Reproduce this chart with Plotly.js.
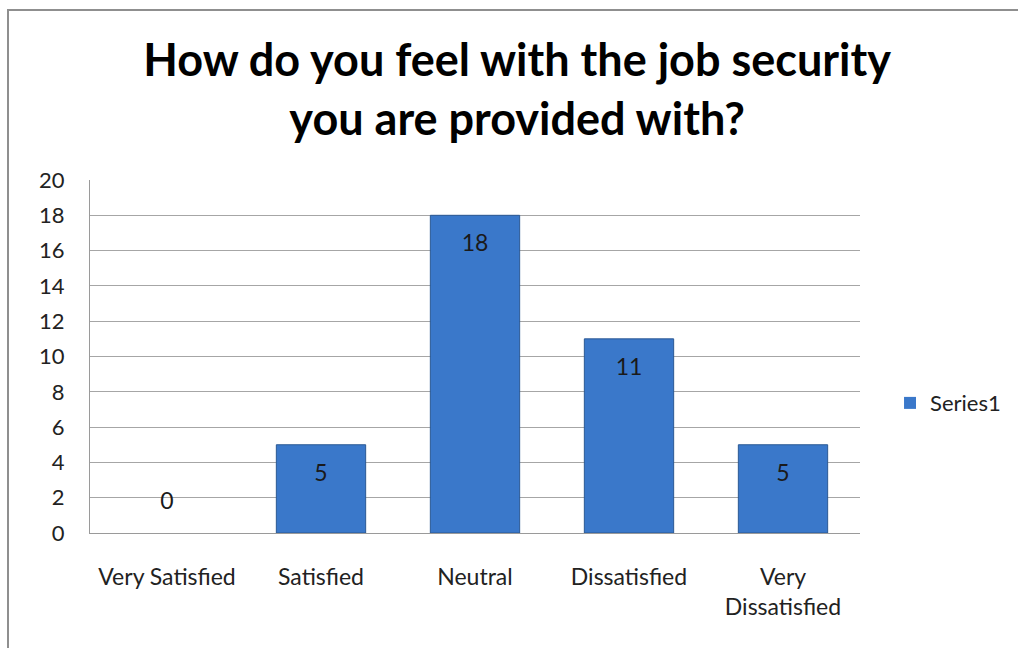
<!DOCTYPE html>
<html>
<head>
<meta charset="utf-8">
<script src="https://cdn.plot.ly/plotly-3.0.1.min.js"></script>
<style>
html,body{margin:0;padding:0;overflow:hidden;background:#fff;}
#chart{position:absolute;left:0;top:0;width:1018px;height:648px;}
#frame{position:absolute;left:7px;top:9px;width:1100px;height:700px;border:2px solid #8f8f8f;pointer-events:none;}
</style>
</head>
<body>
<div id="chart"></div>
<div id="frame"></div>
<script>
const categories = ['Very Satisfied', 'Satisfied', 'Neutral', 'Dissatisfied', 'Very Dissatisfied'];
const tickLabels = ['Very Satisfied', 'Satisfied', 'Neutral', 'Dissatisfied', 'Very<br>Dissatisfied'];
const values = [0, 5, 18, 11, 5];
const seriesName = 'Series1';
const titleText = 'How do you feel with the job security<br>you are provided with?';
const yTicks = [0, 2, 4, 6, 8, 10, 12, 14, 16, 18, 20];

const labelPos = values.map(v => v > 1 ? 'bottom center' : 'top center');

const barTrace = {
  type: 'bar',
  x: categories,
  y: values,
  name: seriesName,
  marker: {color: '#3a78ca', line: {color: '#2a5893', width: values.map(v => v > 0 ? 1 : 0)}},
  hoverinfo: 'skip',
  showlegend: true
};

const labelTrace = {
  type: 'scatter',
  mode: 'markers+text',
  x: categories,
  y: values,
  text: values.map(String),
  textposition: labelPos,
  textfont: {family: 'Lato, sans-serif', size: 23, color: '#1a1a1a'},
  marker: {size: 28, color: 'rgba(0,0,0,0)'},
  hoverinfo: 'skip',
  showlegend: false,
  cliponaxis: false
};

const layout = {
  width: 1018,
  height: 648,
  margin: {l: 90, r: 158, t: 180, b: 115, autoexpand: false},
  paper_bgcolor: 'rgba(0,0,0,0)',
  plot_bgcolor: '#ffffff',
  bargap: 0.42,
  font: {family: 'Lato, sans-serif', size: 22, color: '#222'},
  title: {
    text: titleText,
    font: {family: 'Lato, sans-serif', size: 45, color: '#000', weight: 'bold'},
    x: 0.508, xanchor: 'center', xref: 'container',
    y: 0.882, yanchor: 'middle', yref: 'container'
  },
  xaxis: {
    tickmode: 'array',
    tickvals: categories,
    ticktext: tickLabels,
    showgrid: false,
    showline: true,
    linecolor: '#9a9a9a',
    linewidth: 1,
    ticks: '',
    ticklabelstandoff: 23,
    tickfont: {size: 23, color: '#222'},
    fixedrange: true
  },
  yaxis: {
    range: [0, 20],
    tickmode: 'array',
    tickvals: yTicks,
    showgrid: true,
    gridcolor: '#a6a6a6',
    gridwidth: 1,
    showline: true,
    linecolor: '#9a9a9a',
    linewidth: 1,
    zeroline: false,
    ticks: '',
    ticklabelstandoff: 20,
    tickfont: {size: 22, color: '#222'},
    fixedrange: true
  },
  legend: {
    x: 1.039, xanchor: 'left',
    y: 0.368, yanchor: 'middle',
    font: {size: 22, color: '#222'},
    bgcolor: 'rgba(0,0,0,0)',
    itemwidth: 30
  },
  showlegend: true
};

Plotly.newPlot('chart', [barTrace, labelTrace], layout, {displayModeBar: false, staticPlot: true});
</script>
</body>
</html>
